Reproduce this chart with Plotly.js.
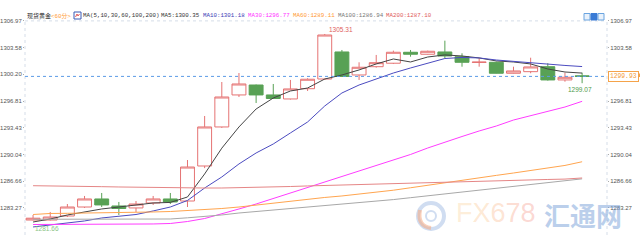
<!DOCTYPE html>
<html><head><meta charset="utf-8">
<script src="https://cdn.plot.ly/plotly-3.0.1.min.js"></script>
<style>html,body{margin:0;padding:0;background:#fff}#chart{width:640px;height:250px}</style>
</head><body><div id="chart"></div>
<script>
// ---- data ----
const bars = [0,1,2,3,4,5,6,7,8,9,10,11,12,13,14,15,16,17,18,19,20,21,22,23,24,25,26,27,28,29,30,31,32];
const openP  = [1281.72,1281.72,1282.23,1283.37,1284.39,1283.50,1283.25,1283.88,1284.39,1284.13,1288.57,1293.52,1297.58,1298.84,1297.58,1297.07,1298.37,1299.60,1303.03,1300.11,1301.16,1301.60,1302.99,1302.74,1303.03,1302.43,1301.70,1301.72,1300.33,1300.53,1301.16,1299.48,1300.00];
const highP  = [1282.36,1282.74,1283.75,1284.77,1285.15,1284.01,1284.13,1284.77,1285.15,1289.33,1294.91,1299.22,1300.36,1298.90,1298.97,1299.48,1299.70,1305.31,1303.28,1301.72,1302.65,1303.20,1303.28,1303.20,1304.46,1302.86,1302.23,1301.80,1301.16,1302.30,1301.60,1300.40,1300.40];
const lowP   = [1281.68,1281.66,1282.10,1283.25,1283.37,1282.36,1282.74,1283.63,1283.75,1283.37,1288.30,1293.40,1297.32,1296.56,1297.10,1297.00,1298.08,1299.50,1299.85,1299.48,1301.04,1301.50,1302.43,1302.70,1302.23,1301.16,1301.16,1300.30,1300.30,1300.33,1299.40,1299.26,1299.07];
const closeP = [1281.95,1282.10,1283.37,1284.39,1283.63,1283.18,1283.75,1284.39,1284.01,1288.44,1293.52,1297.32,1298.97,1297.58,1297.13,1298.34,1299.57,1305.18,1299.92,1301.09,1301.67,1302.99,1302.74,1303.12,1302.52,1301.72,1301.74,1300.33,1300.62,1301.13,1299.48,1299.82,1299.93];
const ma5   = [1281.47,1281.85,1282.36,1282.74,1283.12,1283.37,1283.63,1283.88,1283.95,1284.64,1287.56,1290.83,1293.52,1295.80,1297.19,1298.08,1298.46,1299.60,1300.11,1300.75,1301.51,1302.14,1301.76,1302.39,1302.65,1302.52,1302.27,1301.89,1301.76,1301.51,1300.87,1300.49,1300.35];
const ma10  = [1280.84,1281.09,1281.34,1281.60,1281.98,1282.23,1282.42,1282.87,1283.37,1284.20,1285.78,1287.18,1288.83,1290.22,1291.36,1292.76,1294.15,1296.18,1297.83,1298.84,1299.60,1300.36,1301.00,1301.63,1302.20,1302.33,1302.27,1302.01,1301.82,1301.63,1301.44,1301.32,1301.18];
const ma30  = [1281.15,1281.15,1281.15,1281.15,1281.15,1281.18,1281.20,1281.22,1281.28,1281.53,1281.91,1282.48,1283.12,1283.75,1284.45,1285.15,1285.78,1286.54,1287.18,1287.94,1288.57,1289.33,1290.03,1290.85,1291.62,1292.31,1293.01,1293.64,1294.40,1294.98,1295.55,1296.05,1296.77];
const ma60  = [1282.42,1282.55,1282.57,1282.59,1282.61,1282.61,1282.68,1282.74,1282.80,1282.93,1282.99,1283.18,1283.37,1283.63,1283.88,1284.07,1284.32,1284.58,1284.77,1285.02,1285.21,1285.50,1285.81,1286.14,1286.45,1286.76,1287.08,1287.38,1287.68,1288.01,1288.32,1288.64,1289.11];
const ma100 = [1281.81,1281.81,1281.81,1281.81,1281.81,1281.81,1281.81,1281.81,1281.85,1282.00,1282.17,1282.36,1282.61,1282.80,1282.99,1283.18,1283.33,1283.50,1283.69,1283.88,1284.10,1284.31,1284.55,1284.79,1285.03,1285.26,1285.49,1285.73,1285.97,1286.21,1286.45,1286.68,1286.94];
const ma200 = [1286.07,1286.06,1286.01,1285.97,1285.95,1285.91,1285.87,1285.83,1285.81,1285.78,1285.78,1285.78,1285.81,1285.85,1285.91,1285.97,1286.04,1286.10,1286.16,1286.25,1286.34,1286.40,1286.45,1286.50,1286.56,1286.61,1286.66,1286.71,1286.76,1286.81,1286.86,1286.91,1287.05];
const tickVals = [1283.27,1286.66,1290.04,1293.43,1296.81,1300.20,1303.58,1306.97];
const tickText = ["1283.27","1286.66","1290.04","1293.43","1296.81","1300.20","1303.58","1306.97"];
const lastPrice = 1299.93;
const highMark = {i:17, v:1305.31, t:"1305.31"};
const lowMark = {i:32, v:1299.07, t:"1299.07"};
const lowMark2 = {i:1, v:1281.66, t:"1281.66"};
const title = "现货黄金", period = "<60分>";
const maLabel = "MA(5,10,30,60,100,200)";
const maNames = ["MA5:1300.35","MA10:1301.18","MA30:1296.77","MA60:1289.11","MA100:1286.94","MA200:1287.10"];

// ---- layout helpers ----
const W=640,H=250,L=25,R=33,T=10,B=15;
const pw=W-L-R, ph=H-T-B;
const px = x => (x-L)/pw;
const py = y => (H-B-y)/ph;
const mono = "Liberation Mono, Noto Sans CJK SC, monospace";
const sans = "Liberation Sans, Arial, sans-serif";

const maCols = ["#444444","#4b4bc0","#ff3cff","#ffa54f","#a8a8a8","#e58686"];
const maTxtCols = ["#333333","#3a3ab5","#ff33ff","#ff9933","#777777","#e05a5a"];
const maSeries = [ma5,ma10,ma30,ma60,ma100,ma200];

const traces = [{
  type:'candlestick', x:bars, open:openP, high:highP, low:lowP, close:closeP,
  increasing:{line:{color:'#e57373',width:1}, fillcolor:'#ffffff'},
  decreasing:{line:{color:'#58a155',width:1}, fillcolor:'#58a155'},
  whiskerwidth:0, hoverinfo:'skip', showlegend:false
}];
maSeries.forEach((s,k)=>traces.push({type:'scatter',mode:'lines',x:bars,y:s,
  line:{color:maCols[k],width:1},hoverinfo:'skip',showlegend:false}));
traces.push({type:'scatter',mode:'lines',x:[bars[bars.length-1]],y:[lastPrice],yaxis:'y2',
  line:{color:'rgba(0,0,0,0)'},hoverinfo:'skip',showlegend:false});

const yr=[1279.82,1308.35];
const yax = {range:yr, tickvals:tickVals, ticktext:tickText, showgrid:false, zeroline:false,
  showline:false, ticks:'outside', ticklen:1, tickcolor:'#aaa', fixedrange:true,
  tickfont:{family:sans,size:6,color:'#555'}};

const ann = [];
const hdrY = py(15.5);
function hdr(text,x,color,family,size){ann.push({xref:'paper',yref:'paper',x:px(x),y:hdrY,xanchor:'left',yanchor:'middle',
  showarrow:false,text:text,font:{family:family||mono,size:size||5.8,color:color},borderpad:0});}
hdr(title,26,'#222',"Noto Sans CJK SC",6);
hdr(period.replace('<','&lt;').replace('>','&gt;'),50,'#ff9933',mono,5.8);
hdr(maLabel,82,'#333');
const maX=[160,202,247,292,337,385];
maNames.forEach((t,k)=>hdr(t,maX[k],maTxtCols[k]));

ann.push({xref:'x',yref:'y',x:highMark.i,y:highMark.v,text:highMark.t,showarrow:false,xanchor:'left',yanchor:'middle',
  xshift:2,yshift:4,font:{family:sans,size:6.5,color:'#e06060'}});
ann.push({xref:'x',yref:'y',x:lowMark.i,y:lowMark.v,text:lowMark.t,showarrow:false,xanchor:'center',yanchor:'top',
  xshift:-2,yshift:-1,font:{family:sans,size:6.5,color:'#4f9a4a'}});
ann.push({xref:'x',yref:'y',x:lowMark2.i,y:lowMark2.v,text:lowMark2.t,showarrow:false,xanchor:'center',yanchor:'top',
  xshift:-3,yshift:-3,font:{family:sans,size:6.5,color:'#8cc487'}});
ann.push({xref:'paper',yref:'y',x:px(608),y:lastPrice,text:lastPrice.toFixed(2),showarrow:false,xanchor:'left',yanchor:'middle',
  bgcolor:'#ffffff',bordercolor:'#f5a34a',borderwidth:1,borderpad:1,font:{family:mono,size:6.3,color:'#f39c3a'}});
// watermark
ann.push({xref:'paper',yref:'paper',x:px(496),y:py(213),xanchor:'center',yanchor:'middle',showarrow:false,
  text:'<span style="color:rgba(252,208,150,0.6)">F</span><span style="color:rgba(252,196,140,0.6)">X</span><span style="color:rgba(250,180,135,0.6)">6</span><span style="color:rgba(248,160,130,0.6)">7</span><span style="color:rgba(246,145,130,0.6)">8</span>',
  font:{family:sans,size:27,color:'rgba(250,180,140,0.6)'}});
ann.push({xref:'paper',yref:'paper',x:px(582.5),y:py(214),xanchor:'center',yanchor:'middle',showarrow:false,
  text:'汇通网',font:{family:"Noto Sans CJK SC",size:26,weight:700,color:'rgba(120,160,215,0.5)'}});

const shapes = [
  {type:'line',xref:'paper',yref:'y',x0:0,x1:1,y0:lastPrice,y1:lastPrice,line:{color:'#5b9be6',width:1,dash:'dot'}},
  {type:'line',xref:'paper',yref:'y',x0:0,x1:1,y0:tickVals[7],y1:tickVals[7],line:{color:'#d5dde8',width:1,dash:'dot'},layer:'below'},
  {type:'line',xref:'paper',yref:'paper',x0:0,x1:0,y0:0,y1:py(21),line:{color:'#d5dde8',width:1,dash:'dot'},layer:'below'},
  {type:'line',xref:'paper',yref:'paper',x0:1,x1:1,y0:0,y1:py(21),line:{color:'#d5dde8',width:1,dash:'dot'},layer:'below'},
  // header MA icon
  {type:'rect',xref:'paper',yref:'paper',x0:px(74),x1:px(81),y0:py(19),y1:py(12),line:{color:'#3b5bb5',width:1},fillcolor:'#fff'},
  {type:'path',xref:'paper',yref:'paper',path:`M ${px(75.5)} ${py(17)} L ${px(77)} ${py(14)} L ${px(78)} ${py(16)} L ${px(79.5)} ${py(14)}`,line:{color:'#e05a5a',width:1}},
  // top-right buttons
  {type:'rect',xref:'paper',yref:'paper',x0:px(584),x1:px(590),y0:py(20),y1:py(13.5),line:{color:'#6aa4e0',width:1},fillcolor:'#e8f1fb'},
  {type:'rect',xref:'paper',yref:'paper',x0:px(591),x1:px(597),y0:py(20),y1:py(13.5),line:{color:'#3a7bd5',width:1},fillcolor:'#3a7bd5'},
  {type:'rect',xref:'paper',yref:'paper',x0:px(598),x1:px(604),y0:py(20),y1:py(13.5),line:{color:'#6aa4e0',width:1},fillcolor:'#e8f1fb'},
  // small orange marker at price tag
  {type:'rect',xref:'paper',yref:'paper',x0:px(636.5),x1:px(640),y0:py(77),y1:py(73.5),line:{width:0},fillcolor:'#f5a34a'},
  // watermark logo
  {type:'circle',xref:'paper',yref:'paper',x0:px(418),x1:px(444),y0:py(229),y1:py(203),line:{color:'rgba(150,180,225,0.45)',width:4}},
  {type:'path',xref:'paper',yref:'paper',path:`M ${px(420)} ${py(210)} Q ${px(417)} ${py(226)} ${px(431)} ${py(228)}`,line:{color:'rgba(245,170,130,0.55)',width:4}},
  {type:'circle',xref:'paper',yref:'paper',x0:px(426),x1:px(436),y0:py(221),y1:py(211),line:{color:'rgba(150,180,225,0.45)',width:2}}
];

const layout = {
  width:W,height:H,margin:{l:L,r:R,t:T,b:B},paper_bgcolor:'#fff',plot_bgcolor:'#fff',
  showlegend:false, boxgap:0.1, boxgroupgap:0.1,
  xaxis:{range:[-0.47,33.45],visible:false,rangeslider:{visible:false},fixedrange:true},
  yaxis:Object.assign({side:'left'},yax),
  yaxis2:Object.assign({side:'right',overlaying:'y'},yax),
  annotations:ann, shapes:shapes
};
Plotly.newPlot('chart',traces,layout,{staticPlot:true,displayModeBar:false});
</script></body></html>
